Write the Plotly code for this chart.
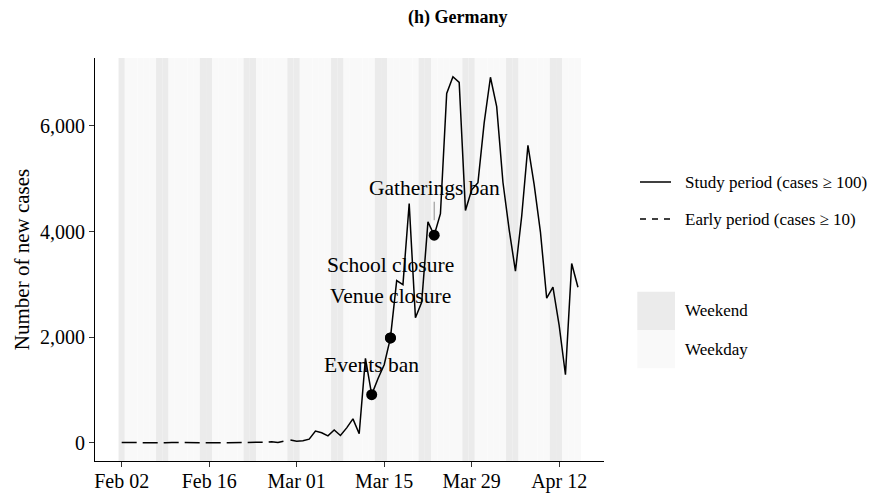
import pandas as pd
import plotly.graph_objects as go

# ---------------- data ----------------
early_start = "2020-02-02"
early_values = [2, 0, 0, 0, 1, 0, 1, 0, 2, 0,
                0, 0, 0, 0, 0, 0, 0, 0, 0, 0,
                0, 0, 1, 10, 19, 2, 31]
study_start = "2020-02-29"
study_values = [51, 29, 37, 66, 220, 188, 129, 241, 136, 281,
                451, 170, 1597, 910, 1210, 1477, 1985, 3070, 2993, 4528,
                2365, 2660, 4183, 3930, 4337, 6615, 6933, 6824, 4400, 4790,
                4923, 6064, 6922, 6365, 4933, 4031, 3251, 4289, 5633, 4885,
                3990, 2737, 2946, 2218, 1287, 3394, 2945]
intervention_labels = ["Events ban", "School closure", "Venue closure", "Gatherings ban"]
intervention_dates = ["2020-03-13", "2020-03-16", "2020-03-16", "2020-03-23"]
y_ticks = [0, 2000, 4000, 6000]
legend_line_labels = ["Study period (cases \u2265 100)", "Early period (cases \u2265 10)"]
legend_tile_labels = ["Weekend", "Weekday"]

early_dates = pd.date_range(early_start, periods=len(early_values), freq="D")
study_dates = pd.date_range(study_start, periods=len(study_values), freq="D")
all_days = pd.date_range(early_dates[0], study_dates[-1], freq="D")
series = pd.Series(study_values, index=study_dates)

# ---------------- style ----------------
FONT = "Liberation Serif"
W, H = 872, 493
L, R, T, B = 95, 268, 58, 32
PW, PH = W - L - R, H - T - B
WEEKEND_C = "#ebebeb"
WEEKDAY_C = "#f9f9f9"
LW = 1.5

def px_x(p):
    return (p - L) / PW

def px_y(p):
    return (H - B - p) / PH

fig = go.Figure()

# background tiles, one per day
half = pd.Timedelta(hours=12)
shapes = []
for d in all_days:
    shapes.append(dict(type="rect", xref="x", yref="paper",
                       x0=d - half, x1=d + half, y0=0, y1=1,
                       fillcolor=WEEKEND_C if d.dayofweek >= 5 else WEEKDAY_C,
                       line=dict(width=0), layer="below"))

fig.add_trace(go.Scatter(x=early_dates, y=early_values, mode="lines",
                         line=dict(color="black", width=LW, dash="15px,6px"),
                         showlegend=False, hoverinfo="skip"))
fig.add_trace(go.Scatter(x=study_dates, y=study_values, mode="lines",
                         line=dict(color="black", width=LW),
                         showlegend=False, hoverinfo="skip"))

idates = pd.to_datetime(intervention_dates)
ivals = [series[d] for d in idates]
fig.add_trace(go.Scatter(x=idates, y=ivals, mode="markers",
                         marker=dict(color="black", size=11),
                         showlegend=False, hoverinfo="skip"))

label_offsets = {"Events ban": (0, 30), "School closure": (0, 73),
                 "Venue closure": (0, 42), "Gatherings ban": (0, 47)}
annotations = []
for lab, d, v in zip(intervention_labels, idates, ivals):
    dx, dy = label_offsets[lab]
    if lab == "Gatherings ban":
        annotations.append(dict(x=d, y=v, xref="x", yref="y", text=lab,
                                showarrow=True, arrowhead=0, arrowwidth=1,
                                arrowcolor="#8c8c8c", ax=dx, ay=-dy, standoff=15,
                                font=dict(family=FONT, size=21.5, color="black")))
    else:
        annotations.append(dict(x=d, y=v, xref="x", yref="y", text=lab,
                                showarrow=False, xshift=dx, yshift=dy,
                                font=dict(family=FONT, size=21.5, color="black")))

# title
annotations.append(dict(x=px_x(457), y=px_y(18), xref="paper", yref="paper",
                        text="<b>(h) Germany</b>", showarrow=False,
                        xanchor="center", yanchor="middle",
                        font=dict(family=FONT, size=18, color="black")))

# manual legend: line keys
for lab, yy, dash in zip(legend_line_labels, [182, 219], ["solid", "6px,6px"]):
    shapes.append(dict(type="line", xref="paper", yref="paper",
                       x0=px_x(640), x1=px_x(671), y0=px_y(yy), y1=px_y(yy),
                       line=dict(color="black", width=LW, dash=dash)))
    annotations.append(dict(x=px_x(683), y=px_y(yy), xref="paper", yref="paper",
                            text=lab, showarrow=False, xanchor="left", yanchor="middle",
                            font=dict(family=FONT, size=17, color="black")))
# manual legend: tile keys
for lab, (y0, y1), col in zip(legend_tile_labels, [(291.7, 330), (330, 368.3)],
                              [WEEKEND_C, WEEKDAY_C]):
    shapes.append(dict(type="rect", xref="paper", yref="paper",
                       x0=px_x(637.3), x1=px_x(675), y0=px_y(y1), y1=px_y(y0),
                       fillcolor=col, line=dict(width=0)))
    annotations.append(dict(x=px_x(683), y=px_y((y0 + y1) / 2), xref="paper", yref="paper",
                            text=lab, showarrow=False, xanchor="left", yanchor="middle",
                            font=dict(family=FONT, size=17, color="black")))

x0 = pd.Timestamp(early_start)
fig.update_layout(
    width=W, height=H,
    margin=dict(l=L, r=R, t=T, b=B),
    plot_bgcolor="white", paper_bgcolor="white",
    font=dict(family=FONT, color="black"),
    shapes=shapes, annotations=annotations,
    showlegend=False,
    xaxis=dict(type="date",
               range=[x0 - pd.Timedelta(days=4.27), x0 + pd.Timedelta(days=77.17)],
               tick0=early_start, dtick=14 * 86400000, tickformat="%b %d",
               showline=True, linecolor="black", linewidth=1,
               ticks="outside", ticklen=5, tickcolor="#333333", tickwidth=1,
               ticklabelstandoff=-3,
               showgrid=False, zeroline=False, automargin=False,
               tickfont=dict(family=FONT, size=20, color="black")),
    yaxis=dict(range=[-347, 7287], tickvals=y_ticks, tickformat=",",
               showline=True, linecolor="black", linewidth=1,
               ticks="outside", ticklen=5, tickcolor="#333333", tickwidth=1,
               showgrid=False, zeroline=False, automargin=False,
               tickfont=dict(family=FONT, size=20, color="black"),
               title=dict(text="Number of new cases", standoff=4,
                          font=dict(family=FONT, size=21, color="black"))),
)

fig.write_html("out.html",
               config={"displayModeBar": False},
               post_script="document.body.style.margin='0';document.body.style.overflow='hidden';")
